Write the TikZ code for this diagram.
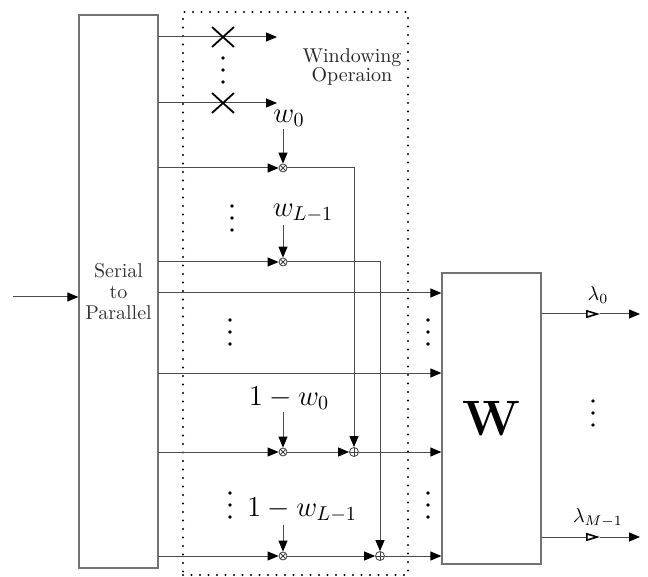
\documentclass[tikz,border=0pt]{standalone}
\usetikzlibrary{arrows.meta,calc,positioning,shapes.misc}

\tikzset{
  wire/.style={draw=black!70, line width=0.5pt},
  sig/.style={wire, -{Triangle[length=5.5pt,width=4.5pt,black]}},
  outsig/.style={wire, -{Triangle[open,length=7pt,width=4pt,line width=0.8pt,black]}},
  blk/.style={draw=black!55, line width=0.6pt, inner sep=0pt},
  xmark/.style={cross out, draw=black, line width=0.9pt, minimum width=10pt, minimum height=9pt, inner sep=0pt},
  mult/.style={circle, draw=black!75, line width=0.4pt, minimum size=4pt, inner sep=0pt,
    path picture={\draw[black!75, line width=0.4pt]
      (path picture bounding box.north west) -- (path picture bounding box.south east)
      (path picture bounding box.north east) -- (path picture bounding box.south west);}},
  adder/.style={circle, draw=black!75, line width=0.4pt, minimum size=4.5pt, inner sep=0pt,
    path picture={\draw[black!75, line width=0.4pt]
      (path picture bounding box.north) -- (path picture bounding box.south)
      (path picture bounding box.west) -- (path picture bounding box.east);}},
  coef/.style={inner sep=1pt, font=\Large}
}

\begin{document}
\begin{tikzpicture}[x=0.5pt, y=-0.5pt]
  \useasboundingbox (0,0) rectangle (648,577);

  % blocks
  \node[draw=black, line width=1.1pt, line cap=round, dash pattern=on 0pt off 4.25pt,
        minimum width=112.5pt, minimum height=281.5pt] (win) at (295.5,293.5) {};
  \node[blk, minimum width=39.5pt, minimum height=276.5pt, align=center,
        font=\fontsize{10}{10.5}\selectfont, text=black!80] (sp) at (118.5,291.5) {Serial\\to\\Parallel};
  \node[blk, minimum width=49.5pt, minimum height=145.5pt, font=\Huge] (W) at (491.5,418.5) {$\mathbf{W}$};
  \node[align=center, font=\fontsize{10}{9.5}\selectfont, text=black!85] (wlab) at (352,67) {Windowing\\Operaion};

  % input
  \coordinate (in) at (13,297);
  \draw[sig] (in) -- (in -| sp.west);

  % rows out of the serial to parallel block
  \foreach \n/\y in {0/37,1/103,2/168,3/262,4/293,5/373,6/452,7/556}
    \coordinate (r\n) at (158,\y);

  % discarded samples
  \coordinate (x0e) at (277,37);
  \coordinate (x1e) at (277,103);
  \draw[sig] (r0) -- (x0e);
  \draw[sig] (r1) -- (x1e);
  \node[xmark] (xa) at (223,37) {};
  \node[xmark] (xb) at (223,103) {};

  % multipliers and adders
  \node[mult] (m0) at (283,168) {};
  \node[mult] (m1) at (283,262) {};
  \node[mult] (m2) at (283,452) {};
  \node[mult] (m3) at (283,556) {};
  \node[adder] (a0) at (354,452) {};
  \node[adder] (a1) at (380,556) {};

  % window coefficients
  \node[coef] (lw0) at (289,118) {$w_0$};
  \node[coef] (lw1) at (303,213) {$w_{L-1}$};
  \node[coef] (lw2) at (289,398) {$1-w_0$};
  \node[coef] (lw3) at (302,510) {$1-w_{L-1}$};
  \draw[sig] (lw0.south -| m0) -- (m0);
  \draw[sig] (lw1.south -| m1) -- (m1);
  \draw[sig] (lw2.south -| m2) -- (m2);
  \draw[sig] (lw3.south -| m3) -- (m3);

  \draw[sig] (r2) -- (m0);
  \draw[sig] (r3) -- (m1);
  \draw[sig] (r6) -- (m2);
  \draw[sig] (r7) -- (m3);
  \draw[sig] (m0) -| (a0);
  \draw[sig] (m1) -| (a1);
  \draw[sig] (m2) -- (a0);
  \draw[sig] (m3) -- (a1);

  % into W
  \draw[sig] (r4) -- (r4 -| W.west);
  \draw[sig] (r5) -- (r5 -| W.west);
  \draw[sig] (a0) -- (a0 -| W.west);
  \draw[sig] (a1) -- (a1 -| W.west);

  % outputs
  \coordinate (o0) at (600,314);
  \coordinate (e0) at (640,314);
  \coordinate (o1) at (600,537);
  \coordinate (e1) at (640,537);
  \draw[outsig] (o0 -| W.east) -- (o0);
  \draw[sig] (o0) -- (e0);
  \draw[outsig] (o1 -| W.east) -- (o1);
  \draw[sig] (o1) -- (e1);
  \node (l0) at (598,295) {$\lambda_0$};
  \node (l1) at (598,518) {$\lambda_{M-1}$};

  % dots
  \coordinate (dA) at (223,70);
  \coordinate (dB) at (232,218);
  \coordinate (dC) at (230,332);
  \coordinate (dD) at (230,505);
  \coordinate (dE) at (428,332);
  \coordinate (dF) at (428,505);
  \coordinate (dG) at (593,413);
  \foreach \p in {dA,dB,dC,dD,dE,dF,dG}
    \foreach \k in {-12,0,12}
      \fill ($(\p)+(0,\k)$) circle (0.9pt);
\end{tikzpicture}
\end{document}
